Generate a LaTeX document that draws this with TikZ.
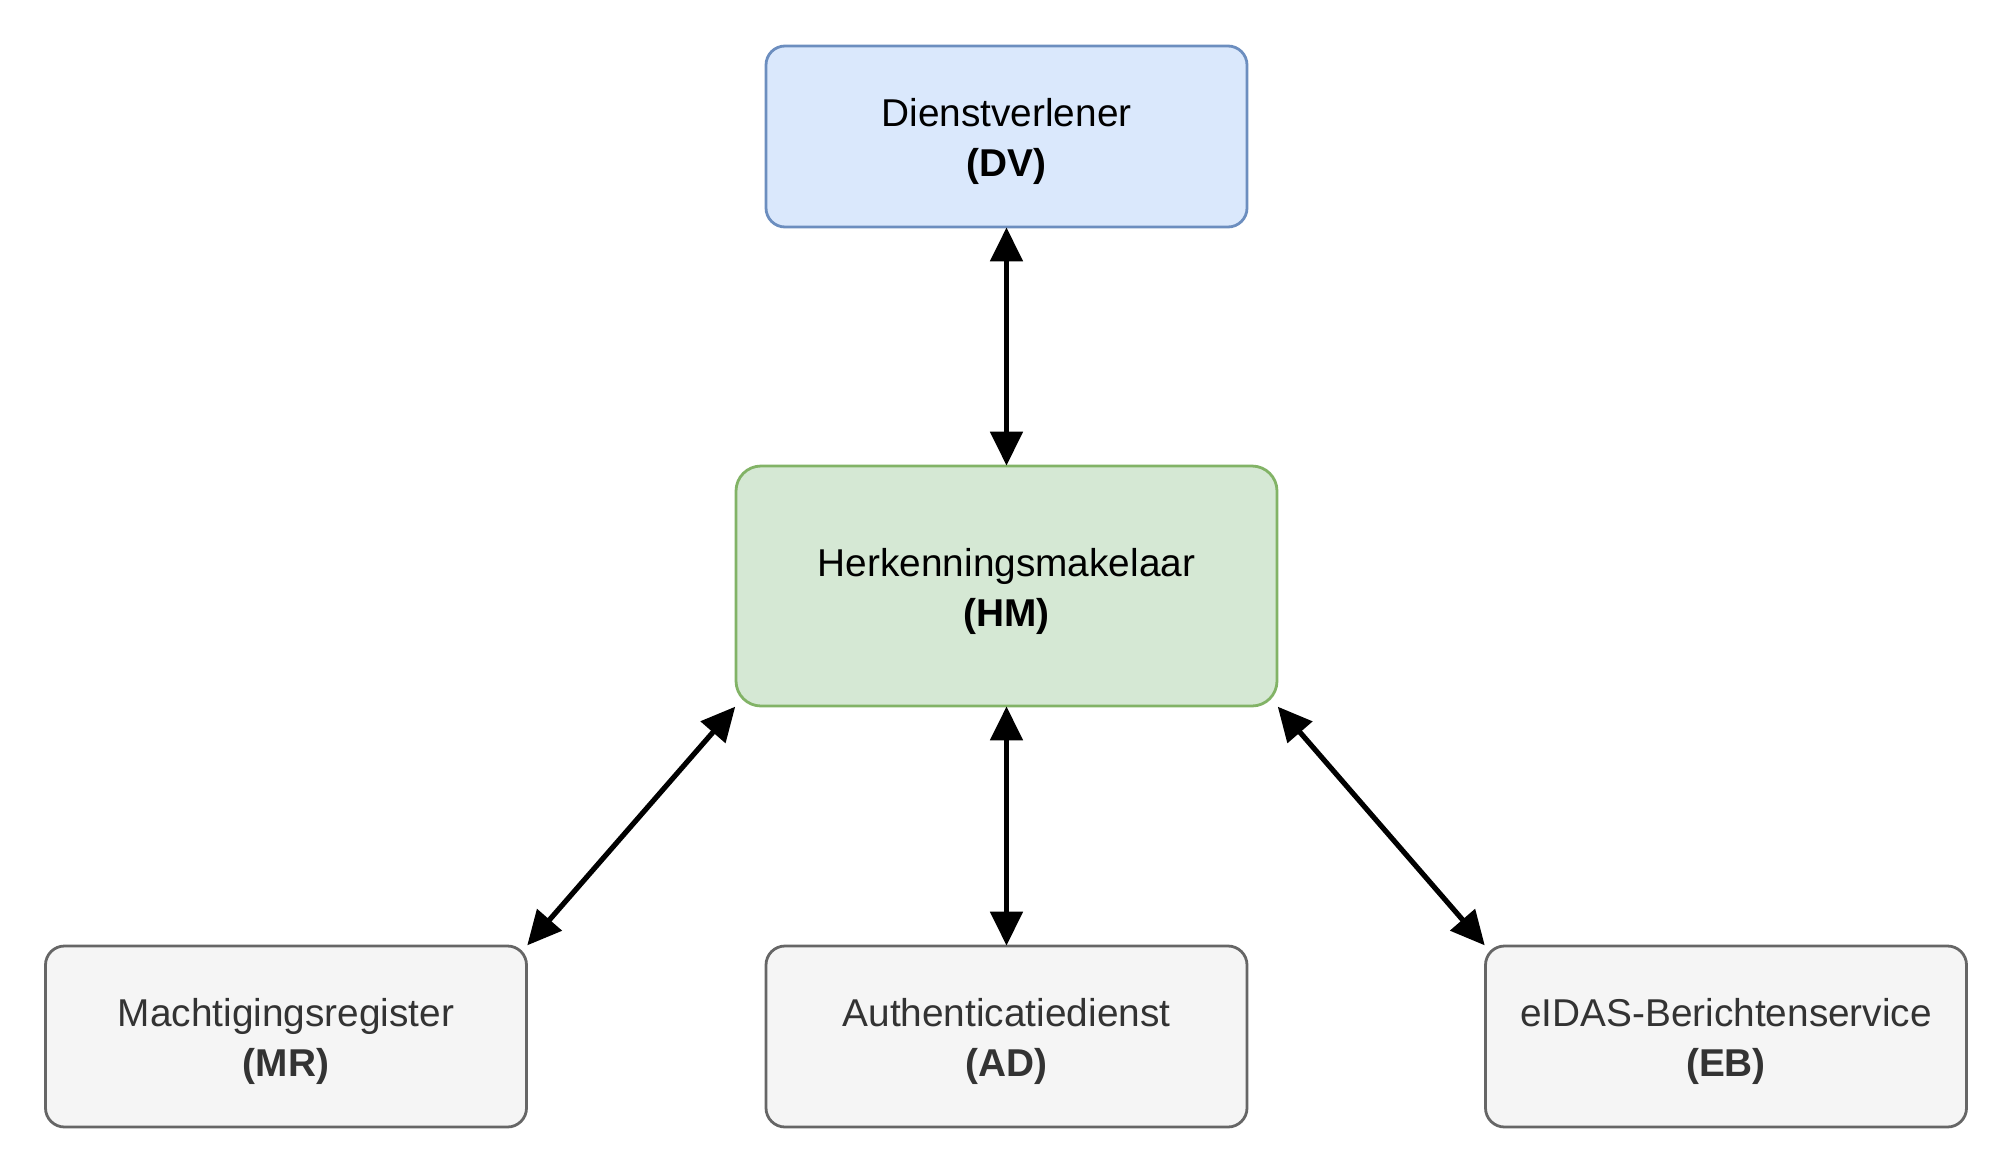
\documentclass[tikz,border=0pt]{standalone}
\usepackage{fontspec}
\setmainfont{Liberation Sans}
\usetikzlibrary{arrows.meta}
\definecolor{dvfill}{HTML}{DAE8FC}
\definecolor{dvline}{HTML}{6C8EBF}
\definecolor{hmfill}{HTML}{D5E8D4}
\definecolor{hmline}{HTML}{82B366}
\definecolor{grfill}{HTML}{F5F5F5}
\definecolor{grline}{HTML}{666666}
\definecolor{grtext}{HTML}{333333}
\begin{document}
\begin{tikzpicture}[x=1pt,y=-1pt,
  box/.style={rectangle, rounded corners=19pt, line width=2.8pt, inner sep=0pt,
    minimum width=481pt, minimum height=181pt},
  bluebox/.style={box, fill=dvfill, draw=dvline},
  greenbox/.style={box, fill=hmfill, draw=hmline, rounded corners=25pt,
    minimum width=541pt, minimum height=240pt},
  graybox/.style={box, fill=grfill, draw=grline},
  lbl/.style={inner sep=0pt, align=center, font=\fontsize{38.8}{50}\selectfont, yshift=-5pt},
  link/.style={line width=5.2pt, {Triangle[length=34pt,width=32pt]}-{Triangle[length=34pt,width=32pt]}, shorten <=-1pt, shorten >=-1pt}
]
\useasboundingbox[fill=white] (0,0) rectangle (2013,1173);
\node[bluebox] (DV) at (1006.5,136.5) {};
\node[greenbox] (HM) at (1006.5,586) {};
\node[graybox] (MR) at (286,1036.5) {};
\node[graybox] (AD) at (1006.5,1036.5) {};
\node[graybox] (EB) at (1726,1036.5) {};
\node[lbl, text=black] (DVt) at (DV.center) {Dienstverlener\\\textbf{(DV)}};
\node[lbl, text=black] (HMt) at (HM.center) {Herkenningsmakelaar\\\textbf{(HM)}};
\node[lbl, text=grtext] (MRt) at (MR.center) {Machtigingsregister\\\textbf{(MR)}};
\node[lbl, text=grtext] (ADt) at (AD.center) {Authenticatiedienst\\\textbf{(AD)}};
\node[lbl, text=grtext] (EBt) at (EB.center) {eIDAS-Berichtenservice\\\textbf{(EB)}};
\draw[link] (DV.south) -- (HM.north);
\draw[link] (HM.south) -- (AD.north);
\draw[link] (HM.south west) -- (MR.north east);
\draw[link] (HM.south east) -- (EB.north west);
\end{tikzpicture}
\end{document}
